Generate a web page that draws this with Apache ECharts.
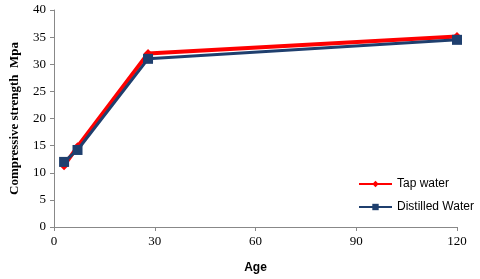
<!DOCTYPE html>
<html><head><meta charset="utf-8">
<script src="https://cdn.jsdelivr.net/npm/echarts@6/dist/echarts.min.js"></script>
<style>html,body{margin:0;padding:0;background:#fff}#c{width:480px;height:279px}</style>
</head><body><div id="c"></div>
<script>
var ages = [3, 7, 28, 120];
var tapWater = [11.3, 14.8, 32.0, 35.1];
var distilledWater = [12.0, 14.2, 31.0, 34.5];
var seriesNames = ['Tap water', 'Distilled Water'];

var chart = echarts.init(document.getElementById('c'));
function pairs(xs, ys){ return xs.map(function(x,i){return [x, ys[i]];}); }
chart.setOption({
  animation: false,
  grid: {left: 52, right: 23, top: 10, bottom: 51},
  legend: {
    orient: 'vertical', left: 353, top: 173, itemGap: 11,
    itemWidth: 33, itemHeight: 8,
    textStyle: {fontFamily: 'Liberation Sans', fontSize: 12, color: '#000'},
    data: seriesNames
  },
  xAxis: {
    type: 'value', min: 0, max: 120, interval: 30,
    name: 'Age', nameLocation: 'middle', nameGap: 35,
    nameTextStyle: {fontFamily: 'Liberation Sans', fontWeight: 'bold', fontSize: 12, color: '#000'},
    axisLine: {lineStyle: {color: '#888'}},
    axisTick: {show: true, lineStyle: {color: '#888'}, length: 4},
    axisLabel: {fontFamily: 'Liberation Serif', fontSize: 13, color: '#000', margin: 8},
    splitLine: {show: false}
  },
  yAxis: {
    type: 'value', min: 0, max: 40, interval: 5,
    name: 'Compressive strength  Mpa', nameLocation: 'middle', nameGap: 33, nameRotate: 90,
    nameTextStyle: {fontFamily: 'Liberation Serif', fontWeight: 'bold', fontSize: 13, color: '#000'},
    axisLine: {show: true, lineStyle: {color: '#888'}},
    axisTick: {show: true, lineStyle: {color: '#888'}, length: 4},
    axisLabel: {fontFamily: 'Liberation Serif', fontSize: 13, color: '#000', margin: 8},
    splitLine: {show: false}
  },
  series: [
    {name: seriesNames[0], type: 'line', data: pairs(ages, tapWater),
     symbol: 'diamond', symbolSize: 9,
     lineStyle: {color: '#ff0000', width: 4}, itemStyle: {color: '#ff0000'}, color: '#ff0000', z: 2},
    {name: seriesNames[1], type: 'line', data: pairs(ages, distilledWater),
     symbol: 'rect', symbolSize: 10,
     lineStyle: {color: '#1f3f6e', width: 3}, itemStyle: {color: '#1f3f6e'}, color: '#1f3f6e', z: 3}
  ]
});
</script></body></html>
